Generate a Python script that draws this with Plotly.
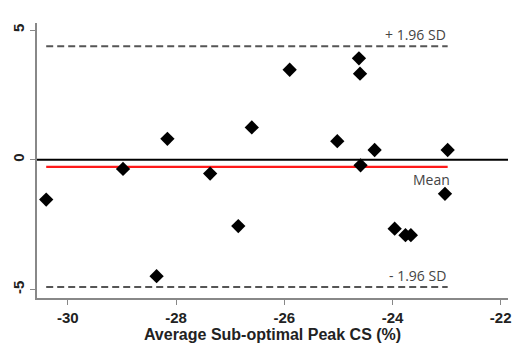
import plotly.graph_objects as go

avg_x = [-28.98, -28.16, -27.37, -26.60, -25.90, -24.62, -24.60, -25.02, -24.33, -22.98,
         -24.59, -30.40, -23.03, -26.85, -23.96, -23.76, -23.66, -28.36]
diff_y = [-0.35, 0.81, -0.53, 1.25, 3.47, 3.91, 3.32, 0.72, 0.38, 0.38,
          -0.21, -1.53, -1.31, -2.55, -2.65, -2.90, -2.90, -4.48]

mean_diff = -0.27
upper_loa = 4.37
lower_loa = -4.90

x_ticks = [-30, -28, -26, -24, -22]
y_ticks = [-5, 0, 5]

x_lo, x_hi = min(avg_x), max(avg_x)

fig = go.Figure()

# zero line
fig.add_shape(type="line", xref="paper", yref="y", x0=0, x1=1, y0=0, y1=0,
              line=dict(color="black", width=2), layer="below")
# mean line
fig.add_trace(go.Scatter(x=[x_lo, x_hi], y=[mean_diff, mean_diff], mode="lines",
                         line=dict(color="#ff1a1a", width=2.2), hoverinfo="skip"))
# limits of agreement
for v in (upper_loa, lower_loa):
    fig.add_trace(go.Scatter(x=[x_lo, x_hi], y=[v, v], mode="lines",
                             line=dict(color="#555555", width=2, dash="7px,4px"),
                             hoverinfo="skip"))

fig.add_trace(go.Scatter(x=avg_x, y=diff_y, mode="markers",
                         marker=dict(symbol="diamond", size=11, color="black",
                                     line=dict(width=0))))

lab_font = dict(family="Open Sans, Liberation Sans, sans-serif", size=14, color="#444444")
fig.add_annotation(x=x_hi, y=upper_loa, text="+ 1.96 SD", showarrow=False,
                   xanchor="right", yanchor="bottom", yshift=0, font=lab_font)
fig.add_annotation(x=x_hi, y=mean_diff, text="Mean", showarrow=False,
                   xanchor="right", yanchor="top", xshift=4, yshift=-1, font=lab_font)
fig.add_annotation(x=x_hi, y=lower_loa, text="- 1.96 SD", showarrow=False,
                   xanchor="right", yanchor="bottom", yshift=0, font=lab_font)

axis_font = dict(family="Liberation Sans, Arial, sans-serif", size=15, color="#222222")

fig.update_layout(
    width=521, height=344,
    margin=dict(l=29, r=21, t=15, b=54),
    paper_bgcolor="white", plot_bgcolor="white",
    showlegend=False,
    xaxis=dict(range=[-30.57, -21.865], tickvals=x_ticks,
               ticktext=[f"<b>{t}</b>" for t in x_ticks],
               showgrid=False, zeroline=False, showline=True, automargin=False,
               linecolor="#888888", linewidth=1.5,
               ticks="outside", ticklen=5, tickcolor="#888888",
               tickfont=axis_font,
               title=dict(text="<b>Average Sub-optimal Peak CS (%)</b>",
                          font=dict(family="Liberation Sans, Arial, sans-serif", size=16, color="#222222"),
                          standoff=2)),
    yaxis=dict(range=[-5.32, 5.27], tickvals=y_ticks,
               ticktext=[f"<b>{t}</b>" for t in y_ticks],
               tickangle=-90, automargin=False,
               showgrid=False, zeroline=False, showline=True,
               linecolor="#888888", linewidth=1.5,
               ticks="outside", ticklen=5, tickcolor="#888888",
               tickfont=axis_font),
)

fig.write_html("out.html")
